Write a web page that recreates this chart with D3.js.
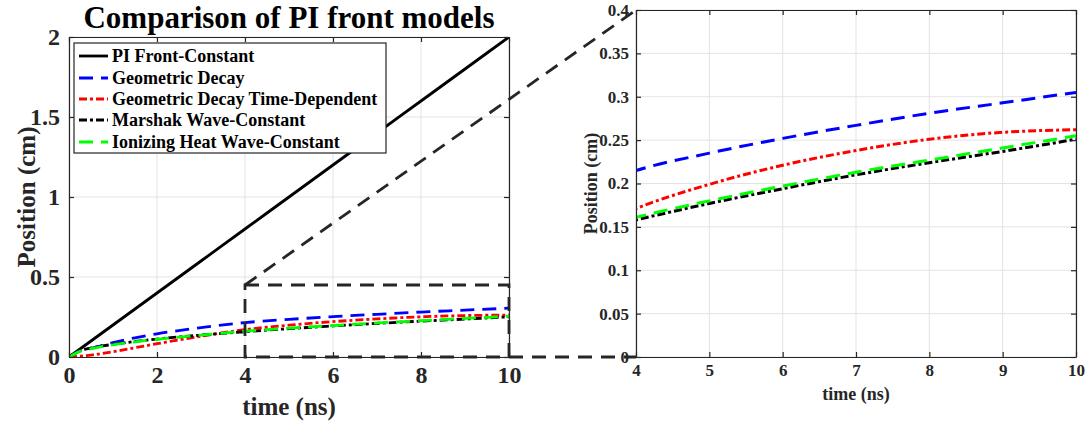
<!DOCTYPE html>
<html>
<head>
<meta charset="utf-8">
<script src="https://cdn.jsdelivr.net/npm/d3@7"></script>
<style>
body { margin: 0; background: #fff; }
</style>
</head>
<body>
<div id="chart"></div>
<script>
// data
var time = [0, 0.25, 0.5, 1, 1.5, 2, 3, 4, 5, 6, 7, 8, 9, 10];
var piFront = [0, 0.05, 0.1, 0.2, 0.3, 0.4, 0.6, 0.8, 1.0, 1.2, 1.4, 1.6, 1.8, 2.0];
var geoDecay = [0, 0.04, 0.055, 0.09, 0.12, 0.145, 0.183, 0.215, 0.235, 0.252, 0.267, 0.281, 0.293, 0.305];
var geoDecayTD = [0, 0.005, 0.012, 0.033, 0.058, 0.083, 0.13, 0.171, 0.199, 0.221, 0.238, 0.251, 0.259, 0.262];
var marshak = [0, 0.04, 0.056, 0.079, 0.097, 0.112, 0.137, 0.158, 0.177, 0.194, 0.210, 0.224, 0.237, 0.251];
var ionizing = [0, 0.035, 0.052, 0.076, 0.095, 0.11, 0.137, 0.161, 0.180, 0.197, 0.213, 0.227, 0.241, 0.255];

var seriesNames = ["PI Front-Constant", "Geometric Decay", "Geometric Decay Time-Dependent", "Marshak Wave-Constant", "Ionizing Heat Wave-Constant"];
var seriesVals = [piFront, geoDecay, geoDecayTD, marshak, ionizing];
var seriesColors = ["#000000", "#0000ff", "#ff0000", "#000000", "#00ff00"];
var seriesDash = [null, "14,8", "8,3,3,3", "8,3,3,3", "14,8"];

var leftXTicks = [0, 2, 4, 6, 8, 10];
var leftYTicks = [0, 0.5, 1, 1.5, 2];
var rightXTicks = [4, 5, 6, 7, 8, 9, 10];
var rightYTicks = [0, 0.05, 0.1, 0.15, 0.2, 0.25, 0.3, 0.35, 0.4];

var FONT = "'Liberation Serif', 'Times New Roman', serif";
var W = 1091, H = 421;
var svg = d3.select("#chart").append("svg")
    .attr("width", W).attr("height", H)
    .attr("font-family", FONT).attr("font-weight", "bold");

function drawPanel(opt) {
    var x = d3.scaleLinear().domain(opt.xdom).range([opt.x0, opt.x1]);
    var y = d3.scaleLinear().domain(opt.ydom).range([opt.y0, opt.y1]);
    var g = svg.append("g");

    // grid
    g.selectAll(".gx").data(opt.xticks).enter().append("line")
        .attr("x1", d => x(d)).attr("x2", d => x(d))
        .attr("y1", opt.y0).attr("y2", opt.y1)
        .attr("stroke", "#e3e3e3").attr("stroke-width", 1);
    g.selectAll(".gy").data(opt.yticks).enter().append("line")
        .attr("y1", d => y(d)).attr("y2", d => y(d))
        .attr("x1", opt.x0).attr("x2", opt.x1)
        .attr("stroke", "#e3e3e3").attr("stroke-width", 1);

    // curves
    var clipId = "clip" + opt.id;
    svg.append("clipPath").attr("id", clipId).append("rect")
        .attr("x", opt.x0).attr("y", opt.y1)
        .attr("width", opt.x1 - opt.x0).attr("height", opt.y0 - opt.y1);

    var line = d3.line()
        .x((d, i) => x(time[i]))
        .y(d => y(d))
        .curve(d3.curveMonotoneX);

    var cg = g.append("g").attr("clip-path", "url(#" + clipId + ")");
    for (var k = 0; k < seriesVals.length; k++) {
        cg.append("path")
            .datum(seriesVals[k])
            .attr("d", line)
            .attr("fill", "none")
            .attr("stroke", seriesColors[k])
            .attr("stroke-width", opt.lw)
            .attr("stroke-dasharray", seriesDash[k]);
    }

    // axes (box with inward ticks)
    var xAxis = d3.axisBottom(x).tickValues(opt.xticks).tickSizeInner(-opt.tick).tickSizeOuter(0).tickPadding(opt.pad + opt.tick).tickFormat(d3.format("~g"));
    var yAxis = d3.axisLeft(y).tickValues(opt.yticks).tickSizeInner(-opt.tick).tickSizeOuter(0).tickPadding(opt.pad + opt.tick).tickFormat(d3.format("~g"));
    var xTop = d3.axisTop(x).tickValues(opt.xticks).tickSizeInner(-opt.tick).tickSizeOuter(0).tickFormat("");
    var yRight = d3.axisRight(y).tickValues(opt.yticks).tickSizeInner(-opt.tick).tickSizeOuter(0).tickFormat("");

    var ax = [
        g.append("g").attr("transform", "translate(0," + opt.y0 + ")").call(xAxis),
        g.append("g").attr("transform", "translate(" + opt.x0 + ",0)").call(yAxis),
        g.append("g").attr("transform", "translate(0," + opt.y1 + ")").call(xTop),
        g.append("g").attr("transform", "translate(" + opt.x1 + ",0)").call(yRight)
    ];
    ax.forEach(function(a) {
        a.attr("font-family", FONT).attr("font-weight", "bold").attr("font-size", opt.fs);
        a.selectAll("path").attr("stroke", "#262626").attr("stroke-width", 1.2);
        a.selectAll("line").attr("stroke", "#262626").attr("stroke-width", 1.2);
        a.selectAll("text").attr("fill", "#262626");
    });

    // axis labels
    svg.append("text")
        .attr("x", (opt.x0 + opt.x1) / 2).attr("y", opt.xlabY)
        .attr("text-anchor", "middle")
        .attr("font-size", opt.lfs).attr("fill", "#262626")
        .text("time (ns)");
    svg.append("text")
        .attr("transform", "translate(" + opt.ylabX + "," + (opt.y0 + opt.y1) / 2 + ") rotate(-90)")
        .attr("text-anchor", "middle")
        .attr("font-size", opt.lfs).attr("fill", "#262626")
        .text("Position (cm)");

    return {x: x, y: y};
}

var left = drawPanel({
    id: "L", xdom: [0, 10], ydom: [0, 2],
    x0: 69, x1: 509, y0: 357, y1: 37,
    xticks: leftXTicks, yticks: leftYTicks,
    tick: 5, pad: 4, fs: 24, lfs: 25, lw: 2.8,
    xlabY: 415, ylabX: 35
});

var right = drawPanel({
    id: "R", xdom: [4, 10], ydom: [0, 0.4],
    x0: 636, x1: 1076, y0: 357, y1: 10,
    xticks: rightXTicks, yticks: rightYTicks,
    tick: 5, pad: 2, fs: 17, lfs: 18, lw: 3,
    xlabY: 400, ylabX: 597
});

// title
svg.append("text")
    .attr("x", 289).attr("y", 28)
    .attr("text-anchor", "middle")
    .attr("font-size", 31)
    .attr("fill", "#000")
    .text("Comparison of PI front models");

// legend
var lg = svg.append("g");
lg.append("rect")
    .attr("x", 74).attr("y", 43).attr("width", 312).attr("height", 110)
    .attr("fill", "#fff").attr("stroke", "#262626").attr("stroke-width", 1.2);
var rowY = [56, 78, 99, 120, 142];
for (var k = 0; k < seriesNames.length; k++) {
    lg.append("line")
        .attr("x1", 79).attr("x2", 108)
        .attr("y1", rowY[k]).attr("y2", rowY[k])
        .attr("stroke", seriesColors[k]).attr("stroke-width", 2.8)
        .attr("stroke-dasharray", seriesDash[k]);
    lg.append("text")
        .attr("x", 112).attr("y", rowY[k] + 6)
        .attr("font-size", 18)
        .attr("fill", "#000")
        .text(seriesNames[k]);
}

// zoom box + connectors
var zx0 = 4, zx1 = 10, zy0 = 0, zy1 = 0.45;
var zg = svg.append("g")
    .attr("fill", "none").attr("stroke", "#262626")
    .attr("stroke-width", 2.8).attr("stroke-dasharray", "14,9");
zg.append("rect")
    .attr("x", left.x(zx0)).attr("y", left.y(zy1))
    .attr("width", left.x(zx1) - left.x(zx0))
    .attr("height", left.y(zy0) - left.y(zy1));
zg.append("line")
    .attr("x1", left.x(zx0)).attr("y1", left.y(zy1))
    .attr("x2", right.x(4)).attr("y2", right.y(0.4));
zg.append("line")
    .attr("x1", left.x(zx1)).attr("y1", left.y(zy0))
    .attr("x2", right.x(4)).attr("y2", right.y(0));
</script>
</body>
</html>
